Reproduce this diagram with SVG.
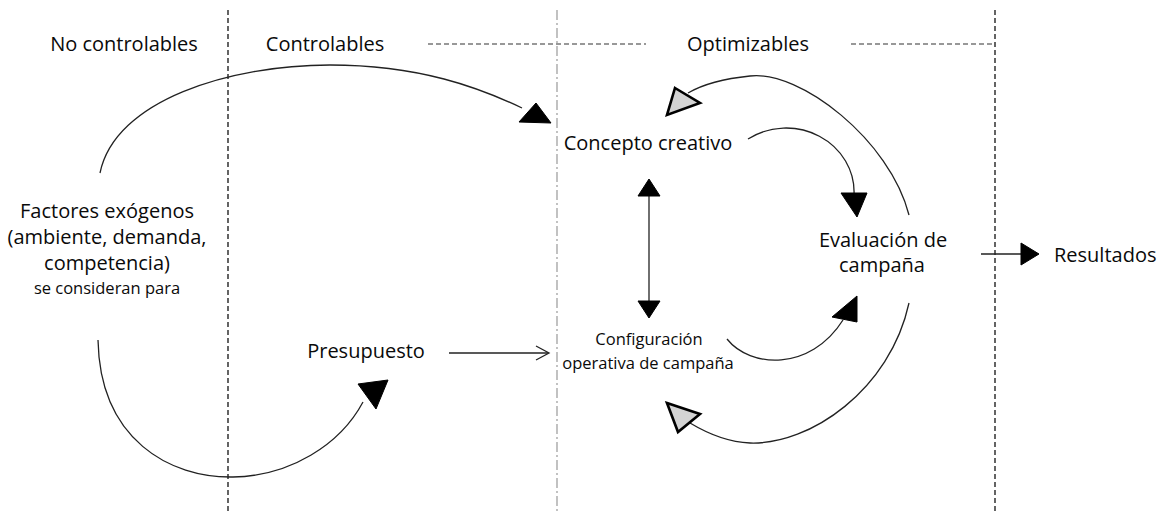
<svg xmlns="http://www.w3.org/2000/svg" width="1170" height="511" viewBox="0 0 1170 511">
<style>
text{font-family:"Open Sans","Liberation Sans",sans-serif;fill:#0a0a0a;text-anchor:middle}
.big{font-size:20px}
.small{font-size:16.5px}
.sep{stroke:#111;stroke-width:1.3;stroke-dasharray:5 3;fill:none}
.mid{stroke:#999;stroke-width:1.2;stroke-dasharray:10 3 2 3;fill:none}
.hd{stroke:#333;stroke-width:1.2;stroke-dasharray:5 3;fill:none}
.c{stroke:#222;stroke-width:1.3;fill:none}
.ah{fill:#000;stroke:#000;stroke-width:1;stroke-linejoin:miter}
.gh{fill:#d3d3d3;stroke:#000;stroke-width:2.6;stroke-linejoin:miter}
</style>
<rect width="1170" height="511" fill="#fff"/>
<g id="zones">
<line class="sep" x1="228" y1="10" x2="228" y2="511"/>
<line class="mid" x1="557" y1="10" x2="557" y2="511"/>
<line class="sep" x1="995" y1="10" x2="995" y2="511"/>
<line class="hd" x1="428" y1="44" x2="646" y2="44"/>
<line class="hd" x1="851" y1="44" x2="995" y2="44"/>
<text class="big" x="124" y="51">No controlables</text>
<text class="big" x="325" y="51">Controlables</text>
<text class="big" x="748" y="51">Optimizables</text>
</g>
<g id="connectors">
<path class="c" d="M100,173 C115,100 230,65 330,65 C420,65 480,88 522,108"/>
<polygon class="ah" points="519,122 536,103 551,123"/>
<path class="c" d="M98,340 C100,440 170,478 233,477 C290,476 340,445 363,402"/>
<polygon class="ah" points="358,384 388,380 376,409"/>
<line class="c" x1="449" y1="353" x2="548" y2="353"/>
<polyline class="c" points="536,346 549,353 536,360"/>
<line class="c" x1="649" y1="195" x2="649" y2="302"/>
<polygon class="ah" points="649,179 660,196 638,196"/>
<polygon class="ah" points="649,318 660,301 638,301"/>
<path class="c" d="M748,139 A68 64 0 0 1 854,195"/>
<polygon class="ah" points="841,193 867,193 857,217"/>
<path class="c" d="M909,215 C890,140 800,70 750,76 C720,79 700,86 688,93"/>
<polygon class="gh" points="675,88 700,103 667,115"/>
<path class="c" d="M727,339 C750,368 810,372 843,320"/>
<polygon class="ah" points="832,317 857,296 857,322"/>
<path class="c" d="M909,303 C890,390 810,445 750,443 C725,442 705,432 690,423"/>
<polygon class="gh" points="667,403 700,414 678,432"/>
<line class="c" x1="981" y1="254" x2="1022" y2="254"/>
<polygon class="ah" points="1021,243 1039,254 1021,265"/>
</g>
<g id="node-factores">
<text class="big" x="107" y="218">Factores exógenos</text>
<text class="big" x="107" y="244">(ambiente, demanda,</text>
<text class="big" x="107" y="270">competencia)</text>
<text class="small" x="107" y="294">se consideran para</text>
</g>
<g id="node-presupuesto">
<text class="big" x="366" y="358">Presupuesto</text>
</g>
<g id="node-concepto">
<text class="big" x="648" y="150">Concepto creativo</text>
</g>
<g id="node-configuracion">
<text class="small" x="649" y="345">Configuración</text>
<text class="small" x="648" y="369">operativa de campaña</text>
</g>
<g id="node-evaluacion">
<text class="big" x="883" y="247">Evaluación de</text>
<text class="big" x="882" y="272">campaña</text>
</g>
<g id="node-resultados">
<text class="big" x="1054" y="262" style="text-anchor:start">Resultados</text>
</g>
</svg>
